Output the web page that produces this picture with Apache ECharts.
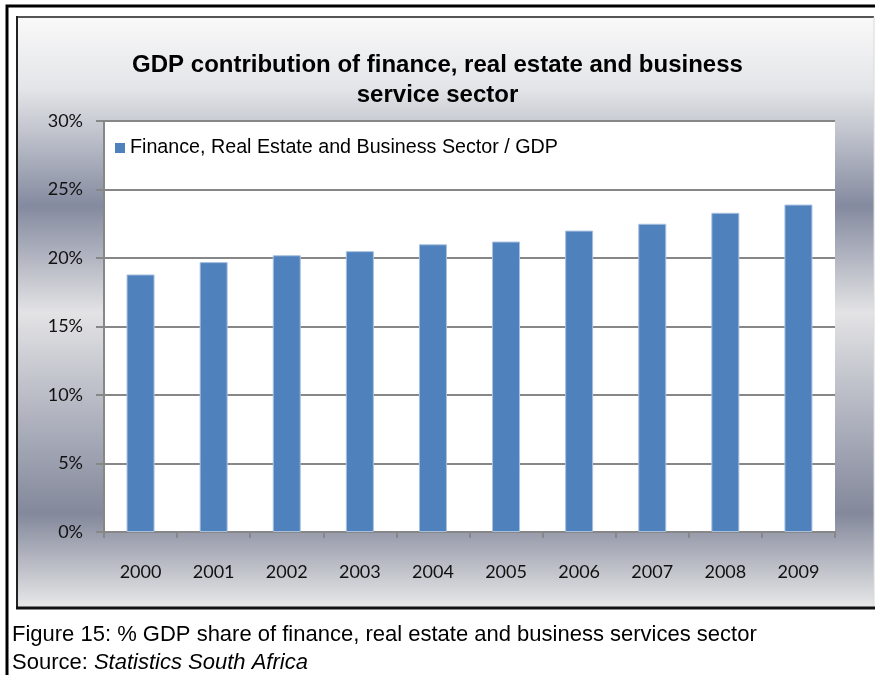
<!DOCTYPE html>
<html>
<head>
<meta charset="utf-8">
<script src="https://cdn.jsdelivr.net/npm/echarts@6/dist/echarts.min.js"></script>
<style>
  html, body { margin: 0; padding: 0; background: #ffffff; }
  #chart { width: 875px; height: 675px; }
</style>
</head>
<body>
<div id="chart"></div>
<script>
// Years on the category axis
const years = ['2000', '2001', '2002', '2003', '2004', '2005', '2006', '2007', '2008', '2009'];
// Finance, real estate and business services share of GDP (%)
const sectorShare = [18.8, 19.7, 20.2, 20.5, 21.0, 21.2, 22.0, 22.5, 23.3, 23.9];
const seriesName = 'Finance, Real Estate and Business Sector / GDP';
const yTicks = { min: 0, max: 30, interval: 5 };

const chartTitle = 'GDP contribution of finance, real estate and business\nservice sector';
const captionLine = 'Figure 15: % GDP share of finance, real estate and business services sector';

const chart = echarts.init(document.getElementById('chart'), null, { renderer: 'canvas' });

const axisFont = 'Lato, "Open Sans", sans-serif';
const textFont = '"Liberation Sans", Arial, sans-serif';

chart.setOption({
  animation: false,
  backgroundColor: '#ffffff',
  title: {
    text: chartTitle,
    left: 'center',
    top: 45,
    textStyle: {
      fontFamily: textFont,
      fontSize: 24,
      fontWeight: 'bold',
      color: '#000000',
      lineHeight: 30
    }
  },
  legend: {
    left: 110,
    top: 133,
    icon: 'rect',
    itemWidth: 10,
    itemHeight: 10,
    itemGap: 6,
    itemStyle: { borderWidth: 0 },
    textStyle: { fontFamily: textFont, fontSize: 19.7, color: '#000000' },
    data: [seriesName]
  },
  grid: {
    left: 104,
    top: 121,
    right: 40,
    bottom: 143,
    show: true,
    backgroundColor: '#ffffff',
    borderWidth: 0,
    containLabel: false
  },
  xAxis: {
    type: 'category',
    data: years,
    boundaryGap: true,
    axisLine: { show: true, lineStyle: { color: '#878787', width: 2 } },
    axisTick: { show: true, length: 6, alignWithLabel: false, lineStyle: { color: '#878787', width: 2 } },
    axisLabel: { margin: 31, fontFamily: axisFont, fontSize: 18, color: '#111111' },
    splitLine: { show: false }
  },
  yAxis: {
    type: 'value',
    min: yTicks.min,
    max: yTicks.max,
    interval: yTicks.interval,
    axisLine: { show: true, lineStyle: { color: '#878787', width: 2 } },
    axisTick: { show: true, length: 8, lineStyle: { color: '#878787', width: 2 } },
    axisLabel: { margin: 21, fontFamily: axisFont, fontSize: 18, color: '#111111', formatter: '{value}%' },
    splitLine: { show: true, lineStyle: { color: '#878787', width: 2 } }
  },
  series: [{
    name: seriesName,
    type: 'bar',
    data: sectorShare,
    barWidth: 28,
    itemStyle: { color: '#4f81bd', borderColor: '#a9c0df', borderWidth: 1 },
    z: 3
  }],
  graphic: [
    // outer frame (top and left edges visible)
    {
      type: 'rect', z: -20, silent: true,
      shape: { x: 7, y: 6, width: 900, height: 700 },
      style: { fill: '#ffffff', stroke: '#000000', lineWidth: 3 }
    },
    // chart area with banded vertical gradient
    {
      type: 'rect', z: -15, silent: true,
      shape: { x: 17, y: 17, width: 857, height: 591 },
      style: {
        fill: new echarts.graphic.LinearGradient(0, 0, 0, 1, [
          { offset: 0.0, color: '#f9f9f9' },
          { offset: 0.12, color: '#e4e5e8' },
          { offset: 0.19, color: '#c3c6cf' },
          { offset: 0.32, color: '#848a9f' },
          { offset: 0.50, color: '#e3e3e5' },
          { offset: 0.68, color: '#afb2be' },
          { offset: 0.84, color: '#83889b' },
          { offset: 1.0, color: '#e9e9e9' }
        ])
      }
    },
    { type: 'line', z: -14, silent: true, shape: { x1: 17, y1: 17, x2: 874, y2: 17 }, style: { stroke: '#555555', lineWidth: 2 } },
    { type: 'line', z: -14, silent: true, shape: { x1: 17, y1: 16, x2: 17, y2: 609 }, style: { stroke: '#222222', lineWidth: 2 } },
    { type: 'line', z: -14, silent: true, shape: { x1: 874, y1: 17, x2: 874, y2: 608 }, style: { stroke: '#d8d8d8', lineWidth: 1 } },
    { type: 'line', z: -14, silent: true, shape: { x1: 16, y1: 608, x2: 875, y2: 608 }, style: { stroke: '#111111', lineWidth: 3 } },
    // caption below the chart
    {
      type: 'text', z: 10, silent: true,
      left: 12, top: 624,
      style: { text: captionLine, font: '22px ' + textFont, fill: '#000000' }
    },
    {
      type: 'text', z: 10, silent: true,
      left: 12, top: 652,
      style: {
        text: '{a|Source: }{b|Statistics South Africa}',
        rich: {
          a: { fontFamily: textFont, fontSize: 22, fill: '#000000', color: '#000000' },
          b: { fontFamily: textFont, fontSize: 22, fontStyle: 'italic', fill: '#000000', color: '#000000' }
        }
      }
    }
  ]
});
</script>
</body>
</html>
